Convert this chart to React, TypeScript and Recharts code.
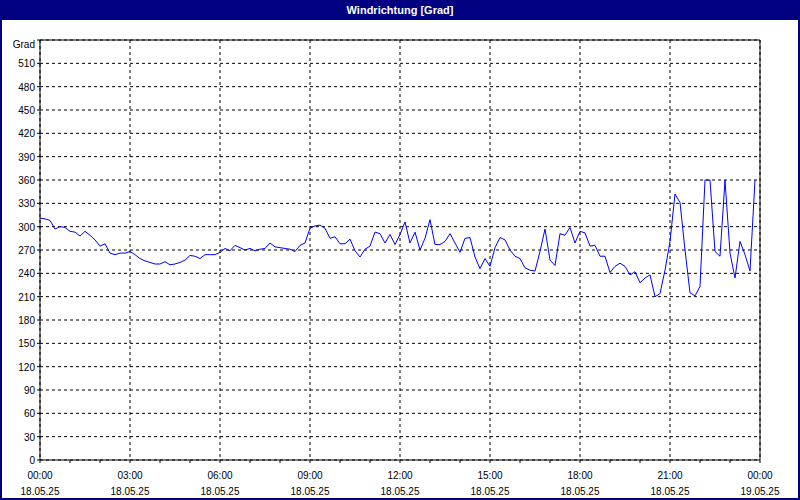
import React from 'react';
import { LineChart, Line, XAxis, YAxis, CartesianGrid, ReferenceLine } from 'recharts';

const FONT = '"Liberation Sans", Arial, sans-serif';

const hourTicks = [0, 1, 2, 3, 4, 5, 6, 7, 8, 9, 10, 11, 12, 13, 14, 15, 16, 17, 18, 19, 20, 21, 22, 23, 24];
const majorHours = [0, 3, 6, 9, 12, 15, 18, 21, 24];
const timeLabels = ['00:00', '03:00', '06:00', '09:00', '12:00', '15:00', '18:00', '21:00', '00:00'];
const dateLabels = ['18.05.25', '18.05.25', '18.05.25', '18.05.25', '18.05.25', '18.05.25', '18.05.25', '18.05.25', '19.05.25'];

const gradTicks = [0, 30, 60, 90, 120, 150, 180, 210, 240, 270, 300, 330, 360, 390, 420, 450, 480, 510, 540];
const compassTicks = [0, 45, 90, 135, 180, 225, 270, 315, 360, 405, 450, 495, 540];
const compassLabels = ['N', 'NE', 'E', 'SE', 'S', 'SW', 'W', 'NW', 'N', 'NE', 'E', 'SE', 'S'];

// wind direction every 10 minutes from 00:00 to 23:50
const windDir = [
  311, 310, 308, 297, 300, 299, 294, 293, 288, 294, 289, 283,
  275, 278, 266, 264, 266, 266, 268, 264, 259, 256, 254, 252,
  252, 255, 251, 252, 254, 257, 263, 262, 259, 264, 264, 264,
  267, 272, 269, 276, 273, 270, 272, 269, 271, 272, 279, 274,
  273, 272, 271, 268, 276, 279, 298, 301, 302, 298, 285, 287,
  278, 278, 284, 269, 261, 271, 275, 293, 291, 279, 290, 277,
  290, 306, 279, 293, 270, 285, 309, 277, 277, 281, 291, 279,
  267, 285, 286, 261, 246, 259, 249, 273, 286, 283, 270, 262,
  259, 247, 244, 243, 268, 297, 257, 250, 291, 289, 299, 279,
  294, 292, 275, 276, 262, 262, 241, 249, 253, 249, 238, 242,
  228, 234, 238, 210, 214, 244, 281, 342, 331, 270, 215, 211,
  223, 360, 360, 268, 262, 360, 266, 234, 281, 264, 243, 360,
];
const SAMPLE_HOURS = 10 / 60;

const data = windDir.map((v, i) => ({ t: i * SAMPLE_HOURS, v }));

const XTick = (props: any) => {
  const { x, y, payload } = props;
  const idx = majorHours.indexOf(payload.value);
  if (idx < 0) return <g />;
  return (
    <g>
      <text x={x} y={y + 14} textAnchor="middle" fontSize={10} fontFamily={FONT} fill="#000">
        {timeLabels[idx]}
      </text>
      <text x={x} y={y + 30} textAnchor="middle" fontSize={10} fontFamily={FONT} fill="#000">
        {dateLabels[idx]}
      </text>
    </g>
  );
};

const LeftTick = (props: any) => {
  const { x, y, payload } = props;
  const isTop = payload.value === gradTicks[gradTicks.length - 1];
  return (
    <text x={x} y={y + (isTop ? 8 : 4)} textAnchor="end" fontSize={10} fontFamily={FONT} fill="#000">
      {isTop ? 'Grad' : String(payload.value)}
    </text>
  );
};

const RightTick = (props: any) => {
  const { x, y, payload } = props;
  const idx = compassTicks.indexOf(payload.value);
  return (
    <text x={x} y={y + 4} textAnchor="start" fontSize={10} fontFamily={FONT} fill="#000">
      {compassLabels[idx]}
    </text>
  );
};

export default function App() {
  return (
    <div style={{ position: 'absolute', left: 0, top: 0, width: 800, height: 500, background: '#fff', overflow: 'hidden' }}>
      <LineChart width={800} height={500} data={data} margin={{ top: 40, right: 0, bottom: 0, left: 0 }}>
        <CartesianGrid
          yAxisId="left"
          stroke="#000"
          strokeDasharray="3 3"
          verticalValues={majorHours}
          horizontalValues={gradTicks}
        />
        <ReferenceLine yAxisId="left" y={540} stroke="#000" strokeWidth={1} />
        <XAxis
          dataKey="t"
          type="number"
          domain={[0, 24]}
          ticks={hourTicks}
          interval={0}
          tickSize={3}
          height={40}
          stroke="#000"
          tick={<XTick />}
        />
        <YAxis
          yAxisId="left"
          domain={[0, 540]}
          ticks={gradTicks}
          interval={0}
          width={40}
          tickSize={3}
          stroke="#000"
          tick={<LeftTick />}
        />
        <YAxis
          yAxisId="right"
          orientation="right"
          domain={[0, 540]}
          ticks={compassTicks}
          interval={0}
          width={40}
          tickSize={3}
          stroke="#000"
          tick={<RightTick />}
        />
        <Line
          yAxisId="left"
          type="linear"
          dataKey="v"
          stroke="#0000ff"
          strokeWidth={1}
          dot={false}
          activeDot={false}
          isAnimationActive={false}
        />
      </LineChart>
      <div
        style={{
          position: 'absolute',
          left: 0,
          top: 0,
          width: 800,
          height: 20,
          background: '#000080',
          color: '#fff',
          fontFamily: FONT,
          fontWeight: 'bold',
          fontSize: 11,
          lineHeight: '20px',
          textAlign: 'center',
        }}
      >
        Windrichtung [Grad]
      </div>
      <div
        style={{
          position: 'absolute',
          left: 0,
          top: 0,
          width: 800,
          height: 500,
          boxSizing: 'border-box',
          border: '2px solid #000080',
          pointerEvents: 'none',
        }}
      />
    </div>
  );
}
